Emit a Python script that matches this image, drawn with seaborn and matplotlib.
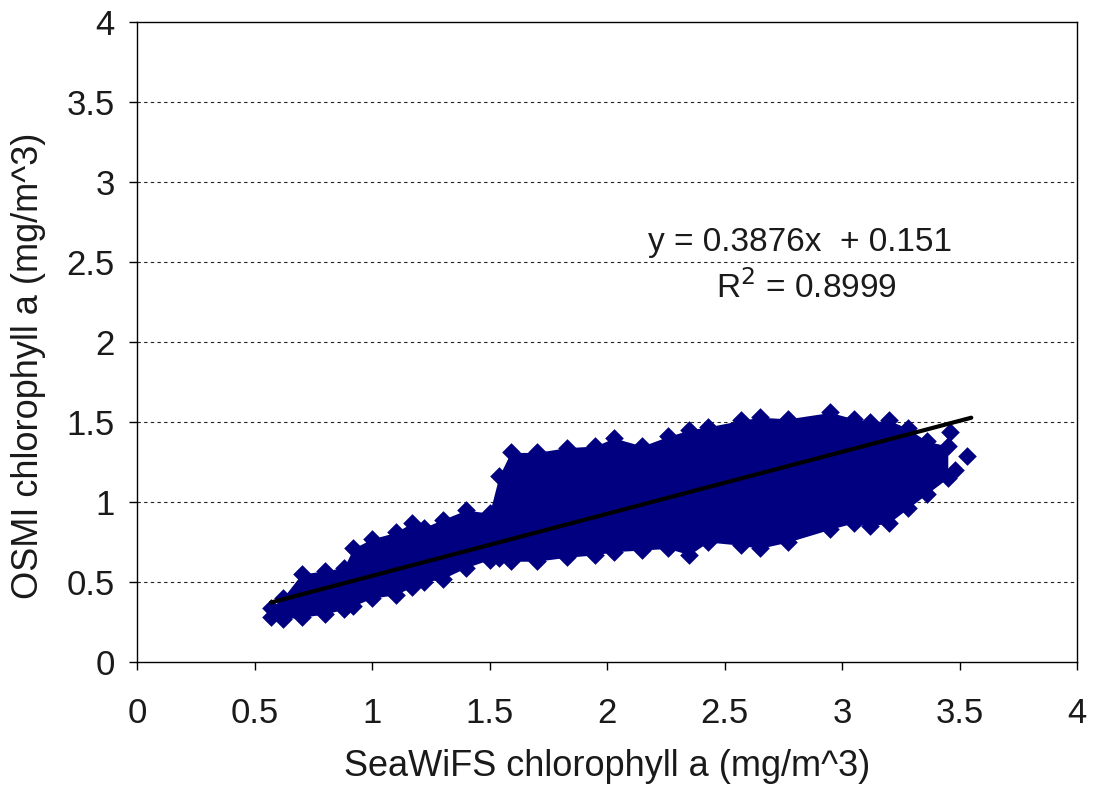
import numpy as np
import pandas as pd
import seaborn as sns
import matplotlib.pyplot as plt

# cloud outline (marker centres along the edge)
cloud_x = [0.57, 0.62, 0.70, 0.80, 0.88, 0.92, 1.00, 1.10, 1.17, 1.22, 1.30, 1.40,
           1.50, 1.54, 1.59, 1.70, 1.83, 1.95, 2.03, 2.15, 2.26, 2.35, 2.43, 2.57,
           2.65, 2.77, 2.95, 3.05, 3.12, 3.20, 3.28, 3.36, 3.45]
cloud_upper = [0.34, 0.40, 0.55, 0.57, 0.59, 0.71, 0.77, 0.81, 0.87, 0.84, 0.89, 0.95,
               0.93, 1.16, 1.31, 1.31, 1.34, 1.35, 1.40, 1.35, 1.41, 1.45, 1.47, 1.51,
               1.53, 1.52, 1.56, 1.52, 1.50, 1.51, 1.46, 1.38, 1.35]
cloud_lower = [0.28, 0.27, 0.28, 0.30, 0.33, 0.35, 0.40, 0.42, 0.47, 0.50, 0.52, 0.59,
               0.64, 0.65, 0.63, 0.63, 0.655, 0.67, 0.69, 0.70, 0.71, 0.67, 0.75, 0.73,
               0.71, 0.75, 0.83, 0.87, 0.85, 0.87, 0.96, 1.05, 1.15]

# loose points at the right end
outlier_x = [3.46, 3.53, 3.48, 3.40]
outlier_y = [1.44, 1.29, 1.20, 1.30]

# trend line from the chart
slope = 0.3876
intercept = 0.151
fit_x = [0.57, 3.55]

ticks = [0, 0.5, 1, 1.5, 2, 2.5, 3, 3.5, 4]
tick_labels = ["0", "0.5", "1", "1.5", "2", "2.5", "3", "3.5", "4"]

sns.set_style("white")
plt.rcParams['font.family'] = ['Liberation Sans', 'DejaVu Sans']
ink = "#1a1a1a"

fig = plt.figure(figsize=(10.96, 7.87), dpi=100)
ax = fig.add_axes([0.125, 0.1588, 0.8577, 0.8132])

navy = "#000080"
ax.fill_between(cloud_x, cloud_lower, cloud_upper, color=navy, lw=0, zorder=2)
edge = pd.DataFrame({"x": cloud_x + cloud_x + outlier_x,
                     "y": cloud_upper + cloud_lower + outlier_y})
sns.scatterplot(data=edge, x="x", y="y", marker="D", s=90, color=navy,
                edgecolor=navy, linewidth=0, ax=ax, zorder=3)

fit = pd.DataFrame({"x": fit_x, "y": [slope * v + intercept for v in fit_x]})
sns.lineplot(data=fit, x="x", y="y", color="black", lw=3, ax=ax, zorder=4)

ax.set_xlim(0, 4)
ax.set_ylim(0, 4)
ax.set_xticks(ticks)
ax.set_xticklabels(tick_labels)
ax.set_yticks(ticks)
ax.set_yticklabels(tick_labels)
for v in ticks[1:-1]:
    ax.axhline(v, color="#222222", lw=0.8, ls=(0, (3, 3)), zorder=1)

for s in ax.spines.values():
    s.set_color("black")
    s.set_linewidth(1.0)
ax.tick_params(axis="both", direction="out", length=6, width=1, color="black",
               labelsize=25, labelcolor=ink, bottom=True, left=True)
ax.tick_params(axis="x", pad=19)
ax.tick_params(axis="y", pad=10)
ax.set_xlabel("SeaWiFS chlorophyll a (mg/m^3)", fontsize=26, color=ink, labelpad=14)
ax.set_ylabel("OSMI chlorophyll a (mg/m^3)", fontsize=26, color=ink)
ax.yaxis.set_label_coords(-0.097, 0.463)

ax.text(2.82, 2.62, "y = 0.3876x  + 0.151", fontsize=24, color=ink,
        ha="center", va="center")
ax.text(2.85, 2.34, "R$^2$ = 0.8999", fontsize=24, color=ink,
        ha="center", va="center")

fig.savefig("out.png", dpi=100)
